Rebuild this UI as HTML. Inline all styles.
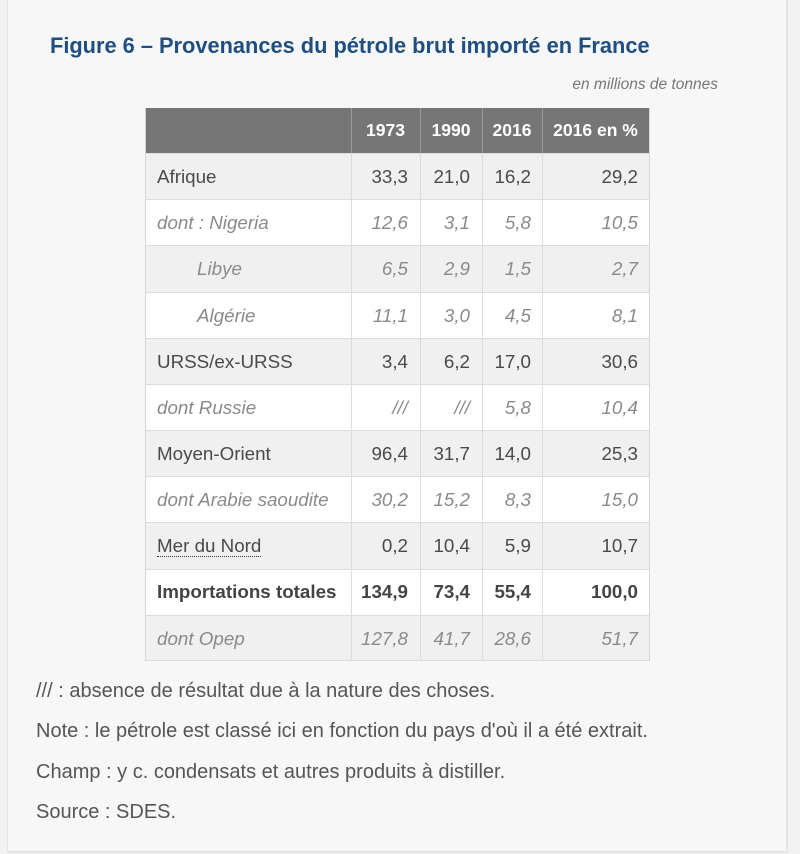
<!DOCTYPE html>
<html><head><meta charset="utf-8"><style>
html,body{margin:0;padding:0;}
body{width:800px;height:854px;position:relative;overflow:hidden;background:#f2f2f2;font-family:"Liberation Sans",sans-serif;}
.frame{position:absolute;left:7px;top:-2px;width:778px;height:852px;background:#f7f7f7;border:1px solid #e2e2e2;border-right:2px solid #e4e4e4;border-bottom:2px solid #e4e4e4;}
.title{position:absolute;left:50px;top:31px;font-size:21.8px;font-weight:bold;color:#1f4e80;white-space:nowrap;line-height:30px;}
.unit{position:absolute;right:82px;top:75px;font-size:15.5px;font-style:italic;color:#777;white-space:nowrap;line-height:20px;}
.hdr{position:absolute;left:145px;top:108px;width:504px;height:45px;background:#767676;}
.h{position:absolute;top:108px;height:45px;line-height:45px;color:#fff;font-weight:bold;font-size:17.5px;text-align:center;}
.row{position:absolute;left:145px;width:504px;border-top:1px solid #dcdcdc;box-sizing:border-box;}
.g{background:#f0f0f0;}
.w{background:#fff;}
.c{position:absolute;font-size:18.8px;color:#4a4a4a;white-space:nowrap;line-height:22px;}
.i{font-style:italic;color:#8a8a8a;}
.b{font-weight:bold;color:#444;}
.vl{position:absolute;top:108px;height:553px;width:1px;background:#dcdcdc;}
.vh{position:absolute;top:108px;height:45px;width:1px;background:#9a9a9a;}
.note{position:absolute;left:36px;font-size:20px;color:#555;white-space:nowrap;line-height:24px;}
abbr{text-decoration:none;border-bottom:1px dotted #333;}
</style></head><body>
<div class="frame"></div>
<div class="title">Figure 6 – Provenances du pétrole brut importé en France</div>
<div class="unit">en millions de tonnes</div>

<div class="hdr"></div>
<div class="h" style="left:351px;width:69px;">1973</div>
<div class="h" style="left:420px;width:62px;">1990</div>
<div class="h" style="left:482px;width:60px;">2016</div>
<div class="h" style="left:542px;width:107px;">2016 en %</div>

<div class="row g" style="top:153px;height:46px;"></div>
<div class="row w" style="top:199px;height:46px;"></div>
<div class="row g" style="top:245px;height:47px;"></div>
<div class="row w" style="top:292px;height:46px;"></div>
<div class="row g" style="top:338px;height:46px;"></div>
<div class="row w" style="top:384px;height:46px;"></div>
<div class="row g" style="top:430px;height:46px;"></div>
<div class="row w" style="top:476px;height:46px;"></div>
<div class="row g" style="top:522px;height:47px;"></div>
<div class="row w" style="top:569px;height:46px;"></div>
<div class="row g" style="top:615px;height:46px;border-bottom:1px solid #dcdcdc;"></div>

<div class="vl" style="left:145px;background:#d6d6d6;"></div>
<div class="vl" style="left:351px;"></div>
<div class="vl" style="left:420px;"></div>
<div class="vl" style="left:482px;"></div>
<div class="vl" style="left:542px;"></div>
<div class="vl" style="left:649px;background:#d6d6d6;"></div>
<div class="vh" style="left:351px;"></div>
<div class="vh" style="left:420px;"></div>
<div class="vh" style="left:482px;"></div>
<div class="vh" style="left:542px;"></div>

<div class="c" style="left:157px;top:166px;">Afrique</div>
<div class="c" style="right:392px;top:166px;">33,3</div>
<div class="c" style="right:330px;top:166px;">21,0</div>
<div class="c" style="right:269px;top:166px;">16,2</div>
<div class="c" style="right:162px;top:166px;">29,2</div>

<div class="c i" style="left:157px;top:212px;">dont : Nigeria</div>
<div class="c i" style="right:392px;top:212px;">12,6</div>
<div class="c i" style="right:330px;top:212px;">3,1</div>
<div class="c i" style="right:269px;top:212px;">5,8</div>
<div class="c i" style="right:162px;top:212px;">10,5</div>

<div class="c i" style="left:197px;top:258px;">Libye</div>
<div class="c i" style="right:392px;top:258px;">6,5</div>
<div class="c i" style="right:330px;top:258px;">2,9</div>
<div class="c i" style="right:269px;top:258px;">1,5</div>
<div class="c i" style="right:162px;top:258px;">2,7</div>

<div class="c i" style="left:197px;top:305px;">Algérie</div>
<div class="c i" style="right:392px;top:305px;">11,1</div>
<div class="c i" style="right:330px;top:305px;">3,0</div>
<div class="c i" style="right:269px;top:305px;">4,5</div>
<div class="c i" style="right:162px;top:305px;">8,1</div>

<div class="c" style="left:157px;top:351px;">URSS/ex-URSS</div>
<div class="c" style="right:392px;top:351px;">3,4</div>
<div class="c" style="right:330px;top:351px;">6,2</div>
<div class="c" style="right:269px;top:351px;">17,0</div>
<div class="c" style="right:162px;top:351px;">30,6</div>

<div class="c i" style="left:157px;top:397px;">dont Russie</div>
<div class="c i" style="right:392px;top:397px;">///</div>
<div class="c i" style="right:330px;top:397px;">///</div>
<div class="c i" style="right:269px;top:397px;">5,8</div>
<div class="c i" style="right:162px;top:397px;">10,4</div>

<div class="c" style="left:157px;top:443px;">Moyen-Orient</div>
<div class="c" style="right:392px;top:443px;">96,4</div>
<div class="c" style="right:330px;top:443px;">31,7</div>
<div class="c" style="right:269px;top:443px;">14,0</div>
<div class="c" style="right:162px;top:443px;">25,3</div>

<div class="c i" style="left:157px;top:489px;">dont Arabie saoudite</div>
<div class="c i" style="right:392px;top:489px;">30,2</div>
<div class="c i" style="right:330px;top:489px;">15,2</div>
<div class="c i" style="right:269px;top:489px;">8,3</div>
<div class="c i" style="right:162px;top:489px;">15,0</div>

<div class="c" style="left:157px;top:535px;"><abbr>Mer du Nord</abbr></div>
<div class="c" style="right:392px;top:535px;">0,2</div>
<div class="c" style="right:330px;top:535px;">10,4</div>
<div class="c" style="right:269px;top:535px;">5,9</div>
<div class="c" style="right:162px;top:535px;">10,7</div>

<div class="c b" style="left:157px;top:581px;">Importations totales</div>
<div class="c b" style="right:392px;top:581px;">134,9</div>
<div class="c b" style="right:330px;top:581px;">73,4</div>
<div class="c b" style="right:269px;top:581px;">55,4</div>
<div class="c b" style="right:162px;top:581px;">100,0</div>

<div class="c i" style="left:157px;top:628px;">dont Opep</div>
<div class="c i" style="right:392px;top:628px;">127,8</div>
<div class="c i" style="right:330px;top:628px;">41,7</div>
<div class="c i" style="right:269px;top:628px;">28,6</div>
<div class="c i" style="right:162px;top:628px;">51,7</div>

<div class="note" style="top:679px;">/// : absence de résultat due à la nature des choses.</div>
<div class="note" style="top:719px;">Note : le pétrole est classé ici en fonction du pays d'où il a été extrait.</div>
<div class="note" style="top:760px;">Champ : y c. condensats et autres produits à distiller.</div>
<div class="note" style="top:800px;">Source : SDES.</div>
</body></html>
